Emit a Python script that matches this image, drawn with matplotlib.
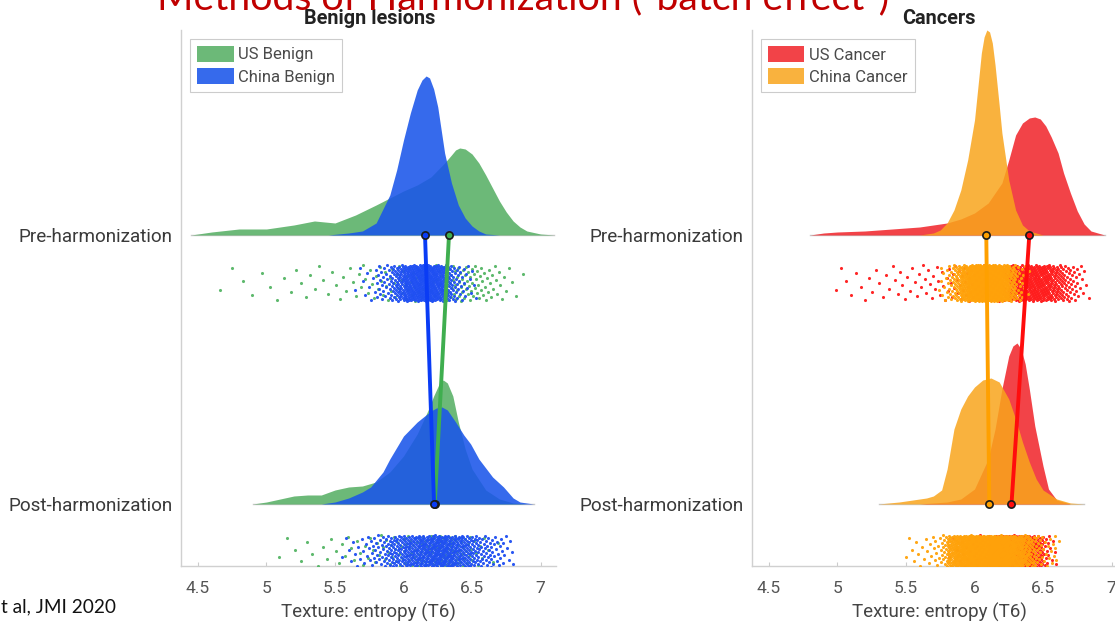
import numpy as np
import matplotlib
matplotlib.use("Agg")
import matplotlib.pyplot as plt
from matplotlib.patches import Patch

# ---------------- data ----------------
rows = ["Pre-harmonization", "Post-harmonization"]
xticks = [4.5, 5, 5.5, 6, 6.5, 7]
xtick_labels = ["4.5", "5", "5.5", "6", "6.5", "7"]

# Benign lesions: density curves (relative heights)
ben_pre_us_x = [4.45, 4.6, 4.8, 5.0, 5.2, 5.35, 5.5, 5.65, 5.8, 5.9, 6.0, 6.1, 6.2, 6.3, 6.35, 6.38, 6.41, 6.45, 6.5, 6.55, 6.6, 6.65, 6.7, 6.75, 6.8, 6.85, 6.9, 7.0, 7.1]
ben_pre_us_h = [0, 3, 6, 6, 10, 14, 12, 20, 30, 37, 44, 50, 58, 72, 80, 85, 87, 86, 81, 72, 60, 47, 34, 23, 14, 8, 4, 1, 0]
ben_pre_cn_x = [5.45, 5.6, 5.7, 5.8, 5.9, 5.95, 6.0, 6.05, 6.1, 6.135, 6.165, 6.19, 6.22, 6.25, 6.3, 6.35, 6.4, 6.45, 6.5, 6.55, 6.6, 6.7]
ben_pre_cn_h = [0, 2, 4, 12, 40, 65, 95, 122, 145, 155, 159, 157, 146, 128, 82, 52, 30, 17, 9, 4, 1, 0]
ben_post_us_x = [4.9, 5.0, 5.1, 5.2, 5.3, 5.4, 5.5, 5.6, 5.7, 5.8, 5.9, 6.0, 6.1, 6.18, 6.22, 6.26, 6.29, 6.32, 6.36, 6.4, 6.45, 6.5, 6.6, 6.7, 6.8, 6.9]
ben_post_us_h = [0, 2, 5, 8, 9, 9, 14, 17, 18, 22, 32, 48, 70, 94, 108, 120, 124, 121, 108, 82, 55, 35, 14, 5, 1, 0]
ben_post_cn_x = [5.4, 5.5, 5.6, 5.7, 5.76, 5.85, 5.9, 6.0, 6.1, 6.2, 6.24, 6.28, 6.32, 6.38, 6.44, 6.49, 6.55, 6.65, 6.73, 6.8, 6.85, 6.95]
ben_post_cn_h = [0, 2, 6, 12, 17, 32, 45, 68, 82, 93, 96, 97, 94, 82, 69, 60, 45, 27, 17, 6, 2, 0]

# Cancers: density curves (relative heights)
can_pre_us_x = [4.8, 4.9, 5.0, 5.2, 5.4, 5.6, 5.8, 5.9, 6.0, 6.1, 6.2, 6.25, 6.3, 6.35, 6.4, 6.44, 6.48, 6.52, 6.56, 6.61, 6.65, 6.7, 6.75, 6.8, 6.85, 6.95]
can_pre_us_h = [0, 2, 3, 4, 6, 8, 12, 16, 22, 32, 52, 75, 100, 112, 117, 118, 116, 109, 98, 82, 62, 42, 24, 11, 4, 0]
can_pre_cn_x = [5.6, 5.7, 5.75, 5.8, 5.85, 5.9, 5.95, 6.0, 6.03, 6.05, 6.07, 6.09, 6.11, 6.13, 6.15, 6.18, 6.2, 6.25, 6.3, 6.35, 6.4, 6.5]
can_pre_cn_h = [0, 2, 5, 12, 25, 45, 75, 115, 155, 182, 198, 205, 203, 192, 170, 130, 102, 55, 25, 10, 4, 0]
can_post_us_x = [5.6, 5.8, 5.9, 6.0, 6.1, 6.15, 6.2, 6.25, 6.28, 6.31, 6.34, 6.37, 6.4, 6.44, 6.5, 6.54, 6.6, 6.7]
can_post_us_h = [0, 2, 5, 15, 45, 75, 115, 148, 158, 161, 155, 140, 115, 78, 38, 15, 4, 0]
can_post_cn_x = [5.3, 5.45, 5.55, 5.65, 5.7, 5.76, 5.8, 5.85, 5.9, 5.95, 6.0, 6.06, 6.12, 6.18, 6.25, 6.3, 6.35, 6.4, 6.45, 6.5, 6.6, 6.7, 6.8]
can_post_cn_h = [0, 2, 4, 6, 8, 14, 35, 75, 95, 108, 117, 124, 126, 122, 105, 85, 62, 42, 25, 14, 5, 1, 0]

# group means (pre, post)
ben_mean_us = [6.332, 6.228]
ben_mean_cn = [6.157, 6.223]
can_mean_us = [6.40, 6.27]
can_mean_cn = [6.086, 6.108]

# ---------------- styling ----------------
HSCALE = 1.0 / 269.0          # relative height -> axis units
BASE = {0: 1.0, 1: 0.0}        # baseline of pre / post rows
RAIN_C = {0: 0.8216, 1: -0.1747}
RAIN_HW = {0: 0.067, 1: 0.058}

FONT = "Roboto"
fig = plt.figure(figsize=(11.15, 6.26), dpi=100)
W, H = 1115.0, 626.0


def rain_points(xs, hs, n):
    xs = np.asarray(xs, float)
    hs = np.asarray(hs, float)
    cdf = np.concatenate([[0], np.cumsum(0.5 * (hs[1:] + hs[:-1]) * np.diff(xs))])
    cdf /= cdf[-1]
    q = 0.004 + 0.992 * (np.arange(n) + 0.5) / n
    px = np.interp(q, cdf, xs)
    jit = ((np.arange(n) * 0.6180339887 + 0.31) % 1.0) * 2 - 1
    return px, jit


def panel(left_px, title, curves, means, labels, fill_cols, rain_cols, line_cols, counts, title_px):
    ax = fig.add_axes([left_px / W, (H - 566) / H, 375 / W, (566 - 30) / H])
    ax.set_xlim(4.376, 7.113)
    ax.set_ylim(-0.2305, 1.762)
    for row in (0, 1):
        b = BASE[row]
        allx = []
        for g in (0, 1):  # 0 = US, 1 = China (drawn on top)
            xs, hs = curves[row][g]
            allx += list(xs)
            hh = np.asarray(hs, float) * HSCALE
            ax.fill_between(xs, b, b + hh, color=fill_cols[g][0], alpha=fill_cols[g][1],
                            lw=0, zorder=2 + g)
        ax.plot([min(allx), max(allx)], [b, b], color="#c9c9c9", lw=1.0, zorder=1)
        for g in (0, 1):
            xs, hs = curves[row][g]
            px, jit = rain_points(xs, hs, counts[g])
            ax.scatter(px, RAIN_C[row] + RAIN_HW[row] * jit, s=5, color=rain_cols[g],
                       linewidths=0, zorder=4 + g, alpha=0.95)
    for g in (0, 1):
        ax.plot([means[g][0], means[g][1]], [1.0, 0.0], color=line_cols[g], lw=2.8,
                solid_capstyle="butt", zorder=7)
    for g in (0, 1):
        ax.plot(means[g], [1.0, 0.0], ls="none", marker="o", ms=5.2,
                mfc=line_cols[g], mec="#1a1a1a", mew=1.2, zorder=8)
    ax.set_yticks([1.0, 0.0])
    ax.set_yticklabels(rows, fontsize=13.6, color="#3a3a3a", family=FONT)
    ax.set_xticks(xticks)
    ax.set_xticklabels(xtick_labels, fontsize=12.5, color="#555555", family=FONT)
    ax.tick_params(axis="y", length=0, pad=6)
    ax.tick_params(axis="x", direction="in", length=3, color="#cccccc", pad=11)
    for s in ("top", "right"):
        ax.spines[s].set_visible(False)
    for s in ("left", "bottom"):
        ax.spines[s].set_color("#d0d0d0")
        ax.spines[s].set_linewidth(1.0)
    handles = [Patch(facecolor=fill_cols[g][0], alpha=fill_cols[g][1], lw=0) for g in (0, 1)]
    leg = ax.legend(handles, labels, loc="upper left", bbox_to_anchor=(0, 1),
                    borderaxespad=0.55, handlelength=2.2, handleheight=1.1,
                    labelspacing=0.35, borderpad=0.4, handletextpad=0.3,
                    fancybox=False, framealpha=1, edgecolor="#cccccc",
                    prop={"family": FONT, "size": 12})
    leg.get_frame().set_linewidth(0.8)
    for t in leg.get_texts():
        t.set_color("#4a4a4a")
    fig.text(title_px / W, 1 - 18 / H, title, ha="center", va="center",
             fontsize=14.3, fontweight="bold", family=FONT, color="#222222")
    fig.text((left_px + 187.5) / W, 1 - 612 / H, "Texture: entropy (T6)", ha="center",
             va="center", fontsize=13.5, family=FONT, color="#444444")
    return ax


benign_curves = [
    [(ben_pre_us_x, ben_pre_us_h), (ben_pre_cn_x, ben_pre_cn_h)],
    [(ben_post_us_x, ben_post_us_h), (ben_post_cn_x, ben_post_cn_h)],
]
cancer_curves = [
    [(can_pre_us_x, can_pre_us_h), (can_pre_cn_x, can_pre_cn_h)],
    [(can_post_us_x, can_post_us_h), (can_post_cn_x, can_post_cn_h)],
]

panel(181, "Benign lesions", benign_curves, [ben_mean_us, ben_mean_cn],
      ["US Benign", "China Benign"],
      [("#4caa5a", 0.82), ("#1a55ea", 0.88)],
      ["#55b565", "#1f4ff2"], ["#3fae4f", "#0a3cf5"], [170, 520], 370)
panel(752, "Cancers", cancer_curves, [can_mean_us, can_mean_cn],
      ["US Cancer", "China Cancer"],
      [("#f02228", 0.85), ("#f9a51c", 0.85)],
      ["#ff1a1a", "#ffa20a"], ["#ff0d0d", "#ffa000"], [520, 950], 939)

# slide texts
r = fig.canvas.get_renderer()
t1 = fig.text(157 / W, 1 - 9 / H, "Methods of Harmonization (\u201cbatch effect\u201d)",
              ha="left", va="baseline", fontsize=28, color="#c00000", family="Lato")
bw = t1.get_window_extent(renderer=r).width
t1.set_fontsize(28 * 733 / bw)
t2 = fig.text(1 / W, 14 / H, "t al, JMI 2020", ha="left", va="baseline",
              fontsize=13, color="#111111", family="Lato")
bw = t2.get_window_extent(renderer=r).width
t2.set_fontsize(13 * 114 / bw)

fig.savefig("out.png", dpi=100)
